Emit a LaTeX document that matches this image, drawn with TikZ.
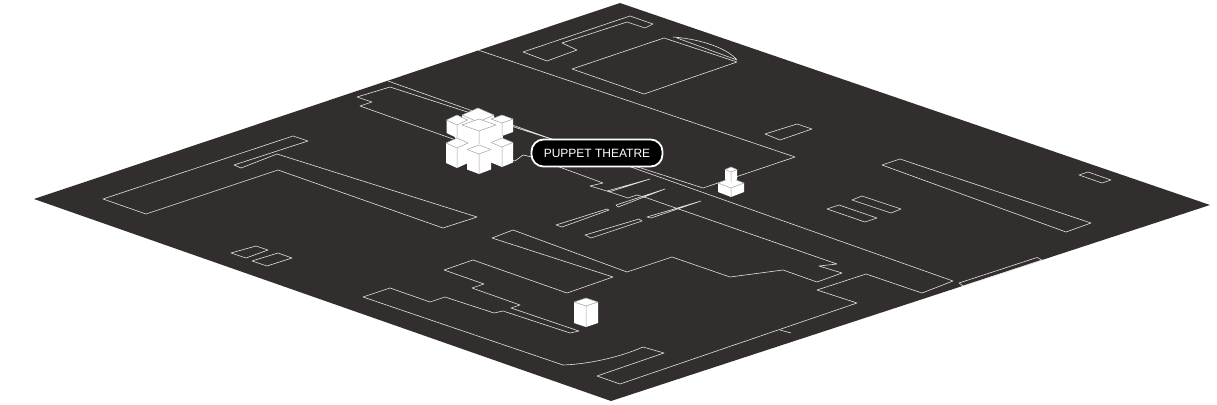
\documentclass[tikz,border=0pt]{standalone}
\usepackage{fontspec}
\setmainfont{Liberation Sans}
\definecolor{groundcol}{HTML}{322E2D}
\definecolor{linecol}{HTML}{E2E2E2}
\definecolor{edgecol}{HTML}{A0A0A0}
% isometric block: top x, top y, half width, half depth, height
\newcommand{\isoblock}[5]{%
	\fill[white] (#1,#2) -- (#1+#3,#2+#4) -- (#1+#3,#2+#4+#5) -- (#1,#2+2*#4+#5) -- (#1-#3,#2+#4+#5) -- (#1-#3,#2+#4) -- cycle;
	\draw[blockline] (#1-#3,#2+#4) -- (#1,#2+2*#4) -- (#1+#3,#2+#4) (#1,#2+2*#4) -- (#1,#2+2*#4+#5);
	\draw[blockline] (#1-#3,#2+#4) -- (#1,#2) -- (#1+#3,#2+#4);
}

\begin{document}
\begin{tikzpicture}[
	x=1pt, y=-1pt,
	plan/.style = {% building outlines
		draw=linecol, line width=0.6pt, line join=round,},
	blockline/.style = {% edges of the white blocks
		draw=edgecol, line width=0.5pt,},
	tag/.style = {% the label
		draw=white, fill=black, line width=1.8pt, rounded corners=12pt, text=white,
		minimum width=131pt, minimum height=27pt, inner sep=0pt, font=\fontsize{12}{14}\selectfont,},
	]
	
	\useasboundingbox (0,0) rectangle (1217,404);
	\fill[white] (0,0) rectangle (1217,404);
	% ground
	\fill[groundcol] (620,3) -- (1210,205) -- (611,401) -- (34,199) -- cycle;
	
	% roads
	\draw[plan] (388,81) -- (953,281) -- (922,293) -- (866,274) -- (817,290) -- (857,303) -- (620,384)
		-- (597,376) -- (664,353) -- (643,347) .. controls (620,357) and (590,364) .. (563,365)
		-- (363,297) -- (390,288) -- (430,302) -- (445,297) -- (494,313) -- (503,311) -- (570,333)
		-- (579,331) -- (511,308) -- (520,305) -- (472,288) -- (484,284) -- (444,270) -- (473,260)
		-- (567,293) -- (613,277) -- (492,238) -- (513,230) -- (627,272) -- (672,257) -- (730,277)
		-- (783,270) -- (817,282) -- (842,273) -- (819,266) -- (837,264) -- (647,198) -- (637,195)
		-- (628,198) -- (610,192) -- (590,186) -- (603,183) -- (532,157) -- (523,155) -- (515,161)
		-- (360,106) -- (372,102) -- (357,97) -- (390,87) -- (703,188) -- (795,157) -- (478,50);
	\draw[plan] (780,330) -- (791,333);
	
	% top buildings
	\draw[plan] (523,52) -- (630,16) -- (653,24) -- (645,28) -- (627,22) -- (562,43) -- (577,50) -- (547,61) -- cycle;
	\draw[plan] (572,69) -- (664,38) -- (737,62) -- (644,94) -- cycle;
	\draw[plan] (673,37) .. controls (700,39) and (727,48) .. (737,60) -- (677,38);
	\draw[plan] (765,134) -- (797,124) -- (812,129) -- (780,140) -- cycle;
	
	% right buildings
	\draw[plan] (882,165) -- (900,159) -- (1091,223) -- (1066,232) -- cycle;
	\draw[plan] (1079,175) -- (1088,172) -- (1111,180) -- (1102,183) -- cycle;
	\draw[plan] (827,209) -- (839,205) -- (877,218) -- (865,222) -- cycle;
	\draw[plan] (852,200) -- (862,196) -- (901,209) -- (891,213) -- cycle;
	\draw[plan] (959,283) -- (1037,257.5) -- (1042,260) -- (963,286) -- cycle;
	
	% left buildings
	\draw[plan] (103,199) -- (293,136) -- (308,141) -- (234,165) -- (241,168) -- (277,154) -- (477,217)
		-- (443,228) -- (278,170) -- (146,214) -- cycle;
	\draw[plan] (231,253) -- (256,246) -- (268,250) -- (246,258) -- cycle;
	\draw[plan] (252,261) -- (278,253) -- (292,258) -- (267,266) -- cycle;
	
	% thin strips
	\draw[plan] (609,192) -- (650,179) -- (607,191);
	\draw[plan] (618,207) -- (665,189) -- (616,205) -- cycle;
	\draw[plan] (556,225) -- (607,209) -- (609,210) -- (562,227) -- cycle;
	\draw[plan] (585,235) -- (639,219) -- (642,221) -- (591,238) -- cycle;
	\draw[plan] (651,218) -- (701,201) -- (647,217) -- cycle;
	
	% blocks of the theatre
	\isoblock{478}{108}{16}{7}{15}
	\fill[white] (455,130) -- (503,130) -- (503,155) -- (455,155) -- cycle;
	\isoblock{457}{115}{10.5}{5}{13}
	\isoblock{502}{115}{11}{4}{13}
	\isoblock{479}{119}{17}{6}{13}
	\isoblock{457}{138}{11}{5}{20}
	\isoblock{502}{138}{11}{4.5}{20}
	\isoblock{479}{145}{12}{4.5}{20}
	% single block
	\isoblock{586}{298}{12}{4}{21}
	% stacked block
	\isoblock{731}{178}{13}{5}{9}
	\isoblock{731}{167}{6}{2.5}{10}
	
	\node[tag] (puppet) at (597,153) {PUPPET THEATRE};

\end{tikzpicture}
\end{document}
